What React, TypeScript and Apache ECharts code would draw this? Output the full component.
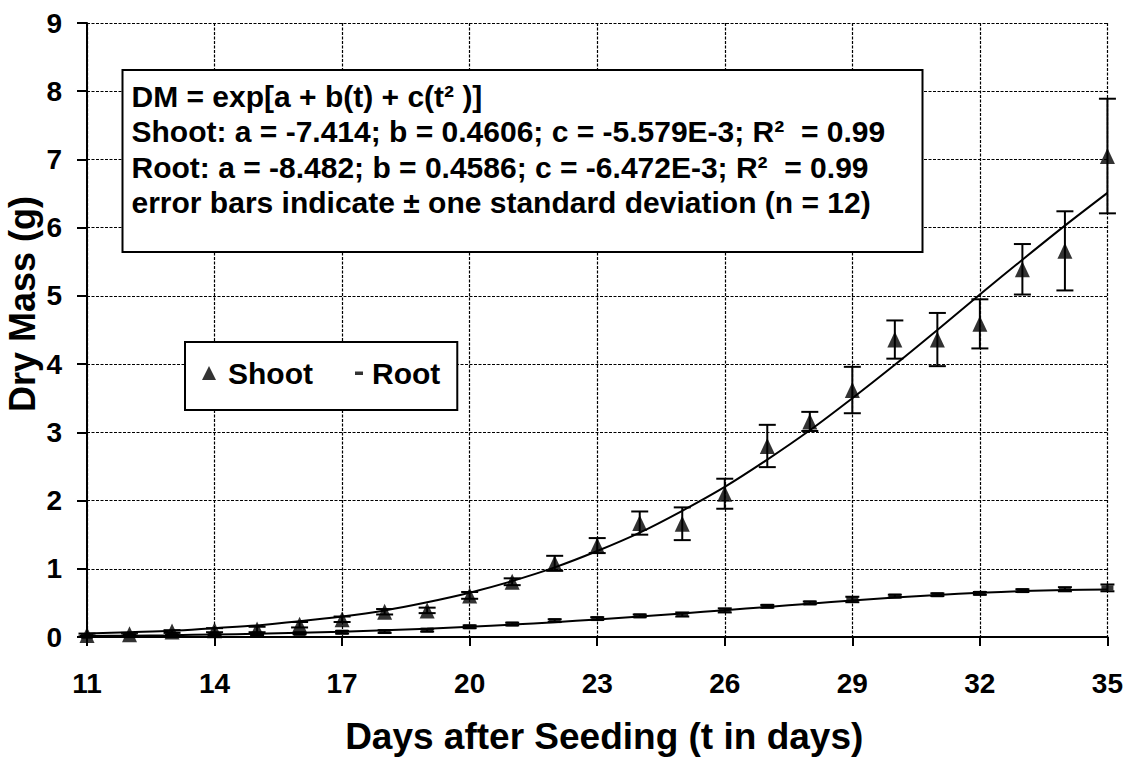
import React, { useEffect, useRef } from "react";
import * as echarts from "echarts";

// ---- data ----
const days = [11, 12, 13, 14, 15, 16, 17, 18, 19, 20, 21, 22, 23, 24, 25, 26, 27, 28, 29, 30, 31, 32, 33, 34, 35];
const shootMean = [0.03, 0.04, 0.08, 0.10, 0.11, 0.18, 0.26, 0.37, 0.39, 0.61, 0.81, 1.08, 1.34, 1.67, 1.66, 2.10, 2.80, 3.16, 3.62, 4.36, 4.36, 4.59, 5.39, 5.66, 7.05];
const shootSD = [0.02, 0.02, 0.02, 0.03, 0.04, 0.04, 0.04, 0.04, 0.04, 0.05, 0.05, 0.11, 0.11, 0.17, 0.24, 0.22, 0.31, 0.14, 0.34, 0.28, 0.39, 0.36, 0.37, 0.58, 0.84];
const rootMean = [0.01, 0.02, 0.02, 0.03, 0.04, 0.05, 0.07, 0.08, 0.10, 0.15, 0.19, 0.24, 0.27, 0.31, 0.33, 0.39, 0.45, 0.50, 0.55, 0.60, 0.62, 0.64, 0.68, 0.70, 0.72];
const rootSD = [0.01, 0.01, 0.01, 0.01, 0.01, 0.01, 0.02, 0.02, 0.02, 0.02, 0.02, 0.02, 0.02, 0.02, 0.03, 0.03, 0.02, 0.02, 0.04, 0.02, 0.02, 0.02, 0.02, 0.03, 0.05];
const shootFit = [0.05, 0.07, 0.09, 0.13, 0.17, 0.23, 0.30, 0.39, 0.51, 0.65, 0.82, 1.02, 1.26, 1.53, 1.85, 2.20, 2.60, 3.03, 3.50, 3.99, 4.50, 5.02, 5.53, 6.03, 6.51];
const rootFit = [0.015, 0.020, 0.027, 0.036, 0.047, 0.061, 0.078, 0.098, 0.122, 0.150, 0.182, 0.218, 0.257, 0.300, 0.346, 0.393, 0.441, 0.489, 0.535, 0.578, 0.616, 0.648, 0.673, 0.690, 0.698];

const dayMin = 11;
const dayMax = 35;
const dayStep = 3;
const yMin = 0;
const yMax = 9;
const yStep = 1;

const xTitle = "Days after Seeding (t in days)";
const yTitle = "Dry Mass (g)";
const noteLines = [
  "DM = exp[a + b(t) + c(t² )]",
  "Shoot: a = -7.414; b = 0.4606; c = -5.579E-3; R²  = 0.99",
  "Root: a = -8.482; b = 0.4586; c = -6.472E-3; R²  = 0.99",
  "error bars indicate ± one standard deviation (n = 12)",
];

const FONT = "'Liberation Sans', Arial, Helvetica, sans-serif";

export default function App() {
  const ref = useRef<HTMLDivElement>(null);

  useEffect(() => {
    if (!ref.current) return;
    const chart = echarts.init(ref.current, undefined, { renderer: "svg" });

    const sx = (d: number) => d - dayMin;
    const shootPts = days.map((d, i) => [sx(d), shootMean[i]]);
    const rootPts = days.map((d, i) => [sx(d), rootMean[i]]);
    const shootErr = days.map((d, i) => [sx(d), shootMean[i] - shootSD[i], shootMean[i] + shootSD[i]]);
    const rootErr = days.map((d, i) => [sx(d), Math.max(0, rootMean[i] - rootSD[i]), rootMean[i] + rootSD[i]]);
    const shootFitPts = days.map((d, i) => [sx(d), shootFit[i]]);
    const rootFitPts = days.map((d, i) => [sx(d), rootFit[i]]);

    const errRender = (cap: number) => (params: any, api: any) => {
      const x = api.value(0);
      const lo = api.coord([x, api.value(1)]);
      const hi = api.coord([x, api.value(2)]);
      const st = { stroke: "#000", lineWidth: 2 };
      return {
        type: "group",
        children: [
          { type: "line", shape: { x1: lo[0], y1: lo[1], x2: hi[0], y2: hi[1] }, style: st },
          { type: "line", shape: { x1: lo[0] - cap / 2, y1: lo[1], x2: lo[0] + cap / 2, y2: lo[1] }, style: st },
          { type: "line", shape: { x1: hi[0] - cap / 2, y1: hi[1], x2: hi[0] + cap / 2, y2: hi[1] }, style: st },
        ],
      };
    };

    const noteTop = 70;
    const noteFirstMid = 96;
    const noteStep = 35.5;

    const gridLine = { show: true, lineStyle: { color: "#000", width: 1.2, type: [3, 1.5] } };

    chart.setOption({
      animation: false,
      backgroundColor: "#fff",
      textStyle: { fontFamily: FONT },
      grid: { left: 87, right: 16.5, top: 23, bottom: 117.7, containLabel: false },
      legend: {
        left: 185,
        top: 342,
        orient: "horizontal",
        padding: [16, 17, 22, 17],
        itemGap: 39,
        itemWidth: 14,
        itemHeight: 14,
        backgroundColor: "#fff",
        borderColor: "#000",
        borderWidth: 2,
        borderRadius: 0,
        textStyle: { fontFamily: FONT, fontWeight: "bold", fontSize: 30, color: "#000", padding: [0, 0, 0, 7] },
        data: [
          { name: "Shoot", icon: "path://M0,14 L7,0 L14,14 Z", itemStyle: { color: "#000" } },
          {
            name: "Root",
            icon: "path://M0,0 M14,14 M3,5.5 L11,5.5 L11,9 L3,9 Z",
            itemStyle: { color: "#000" },
            textStyle: { fontFamily: FONT, fontWeight: "bold", fontSize: 30, color: "#000", padding: [0, 0, 0, 1] },
          },
        ],
      },
      xAxis: {
        type: "value",
        min: sx(dayMin),
        max: sx(dayMax),
        interval: dayStep,
        name: xTitle,
        nameLocation: "middle",
        nameGap: 81,
        nameTextStyle: { fontFamily: FONT, fontWeight: "bold", fontSize: 37, color: "#000", padding: [0, 0, 0, 14] },
        axisLine: { show: true, onZero: false, lineStyle: { color: "#000", width: 2 } },
        axisTick: { show: true, inside: false, length: 9, lineStyle: { color: "#000", width: 2 } },
        axisLabel: {
          margin: 32,
          fontFamily: FONT,
          fontWeight: "bold",
          fontSize: 28,
          color: "#000",
          formatter: (v: number) => String(v + dayMin),
        },
        splitLine: gridLine,
      },
      yAxis: {
        type: "value",
        min: yMin,
        max: yMax,
        interval: yStep,
        axisLine: { show: true, lineStyle: { color: "#000", width: 2 } },
        axisTick: { show: true, inside: false, length: 10, lineStyle: { color: "#000", width: 2 } },
        axisLabel: { margin: 25, fontFamily: FONT, fontWeight: "bold", fontSize: 28, color: "#000" },
        splitLine: gridLine,
      },
      graphic: [
        {
          type: "text",
          x: 22,
          y: 304,
          rotation: Math.PI / 2,
          style: {
            text: yTitle,
            fontFamily: FONT,
            fontWeight: "bold",
            fontSize: 36,
            fill: "#000",
            align: "center",
            verticalAlign: "middle",
          },
          z: 10,
        },
        {
          type: "rect",
          shape: { x: 122.5, y: noteTop, width: 800, height: 252 - noteTop },
          style: { fill: "#fff", stroke: "#000", lineWidth: 2 },
          z: 10,
        },
        ...noteLines.map((t, i) => ({
          type: "text",
          x: 131.5,
          y: noteFirstMid + i * noteStep,
          style: {
            text: t,
            fontFamily: FONT,
            fontWeight: "bold",
            fontSize: 30,
            fill: "#000",
            align: "left",
            verticalAlign: "middle",
          },
          z: 11,
        })),
      ],
      series: [
        {
          name: "Shoot fit",
          type: "line",
          data: shootFitPts,
          smooth: 0.3,
          showSymbol: false,
          lineStyle: { color: "#000", width: 2 },
          z: 3,
          silent: true,
        },
        {
          name: "Root fit",
          type: "line",
          data: rootFitPts,
          smooth: 0.3,
          showSymbol: false,
          lineStyle: { color: "#000", width: 2 },
          z: 3,
          silent: true,
        },
        {
          name: "Shoot SD",
          type: "custom",
          renderItem: errRender(17),
          data: shootErr,
          encode: { x: 0, y: [1, 2] },
          z: 4,
          silent: true,
        },
        {
          name: "Root SD",
          type: "custom",
          renderItem: errRender(14),
          data: rootErr,
          encode: { x: 0, y: [1, 2] },
          z: 4,
          silent: true,
        },
        {
          name: "Shoot",
          type: "scatter",
          data: shootPts,
          symbol: "triangle",
          symbolSize: [15, 16],
          itemStyle: { color: "#000" },
          z: 5,
        },
        {
          name: "Root",
          type: "scatter",
          data: rootPts,
          symbol: "rect",
          symbolSize: [12, 5],
          itemStyle: { color: "#000" },
          z: 5,
        },
      ],
    });

    return () => chart.dispose();
  }, []);

  return (
    <div
      ref={ref}
      style={{ position: "fixed", left: 0, top: 0, width: 1126, height: 760, background: "#fff" }}
    />
  );
}
